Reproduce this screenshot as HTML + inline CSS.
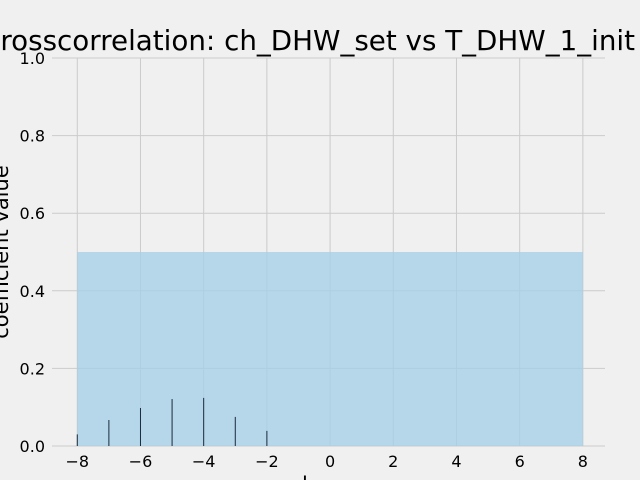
<!DOCTYPE html>
<html><head><meta charset="utf-8"><style>
html,body{margin:0;padding:0;background:#f0f0f0;}
svg{display:block;font-family:"DejaVu Sans","Liberation Sans",sans-serif;}
</style></head><body>
<svg id="chart" width="640" height="480" viewBox="0 0 640 480" xmlns="http://www.w3.org/2000/svg">
<rect x="0" y="0" width="640" height="480" fill="#f0f0f0"/>
<g id="grid"></g>
<g id="band"></g>
<g id="stems"></g>
<g id="ticks"></g>
<text x="-19" y="50" font-size="28" textLength="654" lengthAdjust="spacingAndGlyphs" fill="#000">Crosscorrelation: ch_DHW_set vs T_DHW_1_init</text>
<text x="318" y="492" font-size="21" text-anchor="middle" fill="#000">lag</text>
<text transform="translate(8,252) rotate(-90)" font-size="21" text-anchor="middle" fill="#000">coefficient value</text>
</svg>
<script>
const lags = [-8,-7,-6,-5,-4,-3,-2];
const coefs = [0.03,0.067,0.098,0.121,0.124,0.075,0.039];
const xTicks = [-8,-6,-4,-2,0,2,4,6,8];
const yTicks = [0.0,0.2,0.4,0.6,0.8,1.0];
const bandRange = [-8,8];
const bandHeight = [0.5];
const NS='http://www.w3.org/2000/svg';
const L=52,R=605,T=58,B=446;
const xmin=-8.8,xmax=8.7;
function xs(v){return L+(v-xmin)/(xmax-xmin)*(R-L);}
function ys(v){return B-v*(B-T);}
function mk(tag,attrs,parent){const e=document.createElementNS(NS,tag);for(const k in attrs)e.setAttribute(k,attrs[k]);document.getElementById(parent).appendChild(e);return e;}
xTicks.forEach(t=>{
  const g=mk('line',{x1:xs(t),x2:xs(t),y1:T,y2:B,stroke:'#cbcbcb','stroke-width':1},'grid');
  
  
  const l=mk('text',{x:xs(t),y:467,'font-size':16,'text-anchor':'middle',fill:'#000'},'ticks');
  l.textContent=(t<0?'\u2212'+(-t):String(t));
  
  
});
yTicks.forEach(t=>{
  const g=mk('line',{x1:L,x2:R,y1:ys(t),y2:ys(t),stroke:'#cbcbcb','stroke-width':1},'grid');
  
  
  const l=mk('text',{x:45,y:ys(t)+6,'font-size':16,'text-anchor':'end',fill:'#000'},'ticks');
  l.textContent=t.toFixed(1);
  
  
});
const b=mk('rect',{x:xs(bandRange[0]),y:ys(bandHeight[0]),width:xs(bandRange[1])-xs(bandRange[0]),height:ys(0)-ys(bandHeight[0]),fill:'#a3cfe8','fill-opacity':0.75},'band');


lags.forEach((v,i)=>{
  const s=mk('line',{x1:xs(v),x2:xs(v),y1:ys(0),y2:ys(coefs[i]),stroke:'#1a2a3a','stroke-width':1},'stems');
  
  
});
</script>
</body></html>
